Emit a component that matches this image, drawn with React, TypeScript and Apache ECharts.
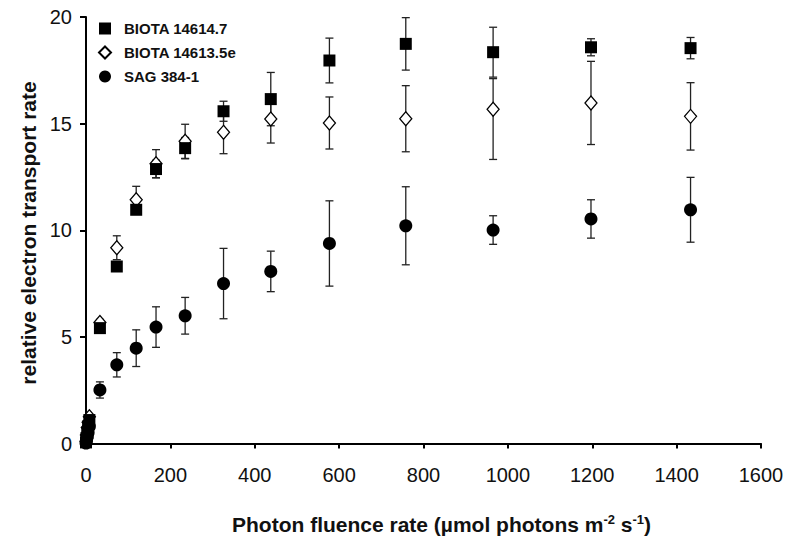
import React, { useEffect, useRef } from "react";
import * as echarts from "echarts";

// Photon fluence rate (x values)
const photonFluence = [0, 1, 3, 5, 8, 33, 73, 119, 166, 235, 326, 438, 577, 758, 965, 1197, 1433];

// BIOTA 14614.7 (filled squares)
const biota146147 = [0.05, 0.25, 0.5, 0.8, 1.1, 5.41, 8.3, 10.96, 12.87, 13.85, 15.58, 16.15, 17.96, 18.74, 18.35, 18.58, 18.54];
const biota146147Err = [0, 0, 0, 0, 0, 0.15, 0.15, 0.2, 0.41, 0.5, 0.47, 1.25, 1.05, 1.23, 1.17, 0.4, 0.5];

// BIOTA 14613.5e (open diamonds)
const biota146135e = [0.1, 0.4, 0.75, 1.0, 1.25, 5.67, 9.18, 11.43, 13.12, 14.17, 14.59, 15.22, 15.03, 15.23, 15.67, 15.97, 15.34];
const biota146135eErrUp = [0, 0, 0, 0, 0, 0.15, 0.56, 0.63, 0.66, 0.8, 1.0, 1.13, 1.22, 1.55, 1.44, 1.95, 1.58];
const biota146135eErrDown = [0, 0, 0, 0, 0, 0.15, 0.56, 0.63, 0.66, 0.8, 1.0, 1.13, 1.22, 1.55, 2.35, 1.95, 1.58];

// SAG 384-1 (filled circles)
const sag3841 = [0.02, 0.15, 0.3, 0.5, 0.8, 2.51, 3.69, 4.47, 5.46, 5.99, 7.5, 8.07, 9.38, 10.21, 10.01, 10.53, 10.96];
const sag3841Err = [0, 0, 0, 0, 0, 0.38, 0.57, 0.86, 0.95, 0.86, 1.65, 0.95, 2.0, 1.83, 0.67, 0.9, 1.52];

const seriesNames = ["BIOTA 14614.7", "BIOTA 14613.5e", "SAG 384-1"];

const FONT = "'Liberation Sans', Arial, sans-serif";

function errorSeries(xs: number[], ys: number[], up: number[], down: number[]) {
  return {
    type: "custom",
    silent: true,
    z: 1,
    data: xs.map((x, i) => [x, ys[i] - down[i], ys[i] + up[i]]),
    encode: { x: 0, y: [1, 2] },
    renderItem: (params: any, api: any) => {
      const x = api.value(0);
      const lo = api.value(1);
      const hi = api.value(2);
      if (hi - lo <= 0) return { type: "group", children: [] };
      const p1 = api.coord([x, lo]);
      const p2 = api.coord([x, hi]);
      const cap = 4;
      const style = { stroke: "#222", lineWidth: 1.3 };
      return {
        type: "group",
        children: [
          { type: "line", shape: { x1: p1[0], y1: p1[1], x2: p2[0], y2: p2[1] }, style },
          { type: "line", shape: { x1: p1[0] - cap, y1: p1[1], x2: p1[0] + cap, y2: p1[1] }, style },
          { type: "line", shape: { x1: p2[0] - cap, y1: p2[1], x2: p2[0] + cap, y2: p2[1] }, style },
        ],
      };
    },
  };
}

export default function App() {
  const ref = useRef<HTMLDivElement>(null);
  useEffect(() => {
    if (!ref.current) return;
    const chart = echarts.init(ref.current, null, { renderer: "svg" });
    const toPairs = (ys: number[]) => photonFluence.map((x, i) => [x, ys[i]]);
    chart.setOption({
      animation: false,
      backgroundColor: "#fff",
      textStyle: { fontFamily: FONT },
      grid: { left: 86, top: 17, width: 675, height: 426.5, containLabel: false },
      legend: {
        data: seriesNames,
        orient: "vertical",
        left: 98,
        top: 21,
        padding: 0,
        itemGap: 9,
        itemWidth: 12,
        itemHeight: 12,
        textStyle: { fontFamily: FONT, fontSize: 15, fontWeight: "bold", color: "#111", padding: [0, 0, 0, 8] },
      },
      xAxis: {
        type: "value",
        min: 0,
        max: 1600,
        interval: 200,
        splitLine: { show: false },
        axisLine: { show: true, onZero: false, lineStyle: { color: "#000", width: 2 } },
        axisTick: { show: true, inside: false, length: 5, lineStyle: { color: "#000", width: 2 } },
        axisLabel: { fontFamily: FONT, fontSize: 20, color: "#111", margin: 21, formatter: (v: number) => String(v) },
      },
      yAxis: {
        type: "value",
        min: 0,
        max: 20,
        interval: 5,
        splitLine: { show: false },
        axisLine: { show: true, onZero: false, lineStyle: { color: "#000", width: 2 } },
        axisTick: { show: true, inside: false, length: 6, lineStyle: { color: "#000", width: 2 } },
        axisLabel: { fontFamily: FONT, fontSize: 20, color: "#111", margin: 14 },
      },
      graphic: [
        {
          type: "text",
          left: 232,
          top: 513,
          style: {
            text: "{a|Photon fluence rate (µmol photons m}{s|-2}{a| s}{s|-1}{a|)}",
            rich: {
              a: { fontFamily: FONT, fontSize: 21, fontWeight: "bold", fill: "#111" },
              s: { fontFamily: FONT, fontSize: 13, fontWeight: "bold", fill: "#111", verticalAlign: "top", padding: [0, 0, 9, 0] },
            },
          },
        },
        {
          type: "text",
          x: 28,
          y: 233,
          rotation: Math.PI / 2,
          style: {
            text: "relative electron transport rate",
            fontFamily: FONT,
            fontSize: 21,
            fontWeight: "bold",
            fill: "#111",
            align: "center",
            verticalAlign: "middle",
          },
        },
      ],
      series: [
        errorSeries(photonFluence, sag3841, sag3841Err, sag3841Err),
        errorSeries(photonFluence, biota146135e, biota146135eErrUp, biota146135eErrDown),
        errorSeries(photonFluence, biota146147, biota146147Err, biota146147Err),
        {
          name: seriesNames[2],
          type: "scatter",
          z: 3,
          symbol: "circle",
          symbolSize: 13,
          itemStyle: { color: "#000", opacity: 1 },
          data: toPairs(sag3841),
        },
        {
          name: seriesNames[1],
          type: "scatter",
          z: 3,
          symbol: "diamond",
          symbolSize: [12, 14],
          itemStyle: { color: "#fff", borderColor: "#000", borderWidth: 1.3, opacity: 1 },
          data: toPairs(biota146135e),
        },
        {
          name: seriesNames[0],
          type: "scatter",
          z: 4,
          symbol: "rect",
          symbolSize: 12,
          itemStyle: { color: "#000", opacity: 1 },
          data: toPairs(biota146147),
        },
      ],
    });
    return () => chart.dispose();
  }, []);
  return <div ref={ref} style={{ width: 800, height: 545, position: "absolute", left: 0, top: 0 }} />;
}
